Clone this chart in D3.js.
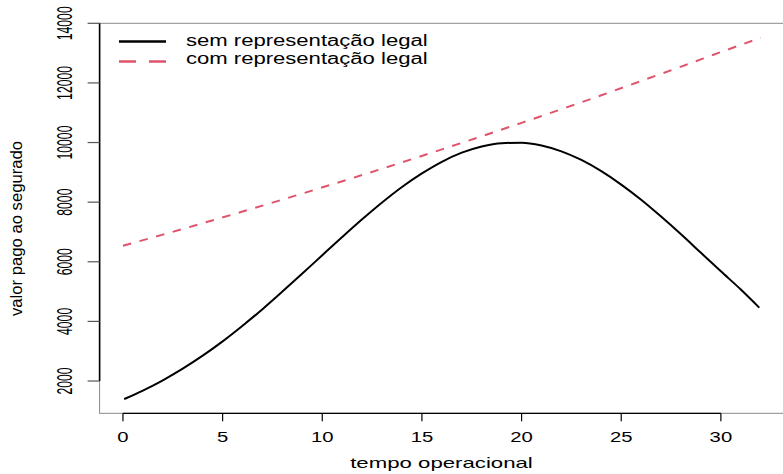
<!DOCTYPE html>
<html>
<head>
<meta charset="utf-8">
<script src="https://cdn.jsdelivr.net/npm/d3@7"></script>
<style>
  html, body { margin: 0; padding: 0; background: #fff; }
  svg { display: block; }
  text { font-family: "Liberation Sans", Arial, Helvetica, sans-serif; fill: #000; }
</style>
</head>
<body>
<svg id="chart" width="783" height="474"></svg>
<script>
// Operational time (x) for the payout without legal representation
const tempoSem = [0.1, 1, 2, 3, 4, 5, 6, 7, 8, 9, 10, 11, 12, 13, 14, 15, 16,
                  17, 18, 19, 20, 21, 22, 23, 24, 25, 26, 27, 28, 29, 30, 31, 31.9];
const semRep = [1405, 1680, 2025, 2415, 2850, 3330, 3855, 4410, 5000, 5605, 6220,
                6830, 7425, 7990, 8510, 8965, 9355, 9660, 9870, 9980, 9995, 9900,
                9705, 9415, 9040, 8590, 8080, 7515, 6920, 6300, 5680, 5070, 4480];

// Operational time (x) for the payout with legal representation
const tempoCom = [0, 2, 4, 6, 8, 10, 12, 14, 16, 18, 20, 22, 24, 26, 28, 30, 32];
const comRep = [6540, 6910, 7295, 7685, 8085, 8495, 8910, 9335, 9770, 10210, 10660,
                11120, 11585, 12065, 12545, 13035, 13515];

const xTicks = [0, 5, 10, 15, 20, 25, 30];
const yTicks = [2000, 4000, 6000, 8000, 10000, 12000, 14000];
const legendLabels = ["sem representação legal", "com representação legal"];
const xTitle = "tempo operacional";
const yTitle = "valor pago ao segurado";

const svg = d3.select("#chart");

const plotLeft = 99.6, plotTop = 23.3, plotBottom = 413.3, plotRight = 784.1;
const x = d3.scaleLinear().domain([-1.172, 33.172]).range([plotLeft, plotRight]);
const y = d3.scaleLinear().domain([917, 14000]).range([plotBottom, plotTop]);

// plot frame
svg.append("rect")
  .attr("x", plotLeft).attr("y", plotTop)
  .attr("width", plotRight - plotLeft).attr("height", plotBottom - plotTop)
  .attr("fill", "none").attr("stroke", "#8a8a8a").attr("stroke-width", 1);

// x axis
const xAxis = svg.append("g");
xAxis.append("line")
  .attr("x1", x(xTicks[0])).attr("x2", x(xTicks[xTicks.length - 1]))
  .attr("y1", plotBottom).attr("y2", plotBottom)
  .attr("stroke", "#000").attr("stroke-width", 1.3);
xAxis.selectAll("line.tick").data(xTicks).enter().append("line")
  .attr("class", "tick")
  .attr("x1", d => x(d)).attr("x2", d => x(d))
  .attr("y1", plotBottom).attr("y2", plotBottom + 8)
  .attr("stroke", "#000").attr("stroke-width", 1.2);
xAxis.selectAll("text").data(xTicks).enter().append("text")
  .attr("transform", d => `translate(${x(d)},442) scale(1.45,1)`)
  .attr("text-anchor", "middle")
  .style("font-size", "14px")
  .text(d => d);

// y axis
const yAxis = svg.append("g");
yAxis.append("line")
  .attr("x1", plotLeft).attr("x2", plotLeft)
  .attr("y1", y(yTicks[0])).attr("y2", y(yTicks[yTicks.length - 1]))
  .attr("stroke", "#000").attr("stroke-width", 1.6);
yAxis.selectAll("line.tick").data(yTicks).enter().append("line")
  .attr("class", "tick")
  .attr("x1", plotLeft - 12).attr("x2", plotLeft)
  .attr("y1", d => y(d)).attr("y2", d => y(d))
  .attr("stroke", "#555").attr("stroke-width", 1.2);
yAxis.selectAll("text").data(yTicks).enter().append("text")
  .attr("transform", d => `translate(72,${y(d)}) rotate(-90) scale(0.94,1.65)`)
  .attr("text-anchor", "middle")
  .style("font-size", "13px")
  .text(d => d);

// axis titles
svg.append("text")
  .attr("transform", "translate(441.5,468) scale(1.48,1)")
  .attr("text-anchor", "middle")
  .style("font-size", "15px")
  .text(xTitle);
svg.append("text")
  .attr("transform", "translate(21.5,228.5) rotate(-90) scale(1.15,1.1)")
  .attr("text-anchor", "middle")
  .style("font-size", "14.5px")
  .text(yTitle);

// series
const lineSem = d3.line()
  .x((d, i) => x(tempoSem[i])).y(d => y(d))
  .curve(d3.curveMonotoneX);
const lineCom = d3.line()
  .x((d, i) => x(tempoCom[i])).y(d => y(d))
  .curve(d3.curveMonotoneX);

svg.append("path")
  .attr("d", lineSem(semRep))
  .attr("fill", "none").attr("stroke", "#000")
  .attr("stroke-width", 2).attr("stroke-linecap", "round");

svg.append("path")
  .attr("d", lineCom(comRep))
  .attr("fill", "none").attr("stroke", "#DF536B")
  .attr("stroke-width", 2)
  .attr("stroke-dasharray", "8.5,8.7");

// legend
const legend = svg.append("g");
legend.append("line")
  .attr("x1", 119).attr("x2", 166).attr("y1", 41.5).attr("y2", 41.5)
  .attr("stroke", "#000").attr("stroke-width", 2.6);
legend.append("line")
  .attr("x1", 119).attr("x2", 166).attr("y1", 61.5).attr("y2", 61.5)
  .attr("stroke", "#DF536B").attr("stroke-width", 2.6)
  .attr("stroke-dasharray", "17,13");
legend.selectAll("text").data(legendLabels).enter().append("text")
  .attr("transform", (d, i) => `translate(186,${45.5 + i * 18.5}) scale(1.38,1)`)
  .style("font-size", "16px")
  .text(d => d);
</script>
</body>
</html>
